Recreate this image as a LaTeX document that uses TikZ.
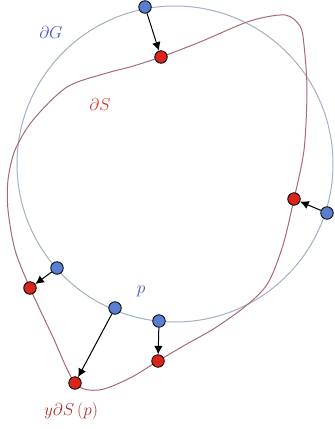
\documentclass[tikz,border=0pt]{standalone}
\usepackage{amsmath}
\usepackage{amssymb}
\usetikzlibrary{arrows, arrows.meta}
\usetikzlibrary{calc}

\definecolor{circcol}{HTML}{A2B1C3}
\definecolor{curvecol}{HTML}{A8687A}
\definecolor{dotblue}{HTML}{5B7FD0}
\definecolor{dotred}{HTML}{D9261C}
\definecolor{txtblue}{HTML}{4656BE}
\definecolor{txtred}{HTML}{D8332A}
\definecolor{txtdark}{HTML}{B02C2C}

\begin{document}
\begin{tikzpicture}[x=1pt, y=-1pt,
    bluedot/.style={circle, draw=black, line width=0.8pt, fill=dotblue, inner sep=0pt, minimum size=12.5pt},
    reddot/.style={circle, draw=black, line width=0.8pt, fill=dotred, inner sep=0pt, minimum size=12.5pt},
    shift arrow/.style={draw=black, line width=1pt, -{Latex[length=8.5pt, width=8.5pt]}},
    lbl/.style={inner sep=0pt, font=\LARGE}]
      \useasboundingbox (0,0) rectangle (335,429);

      % boundary of G
      \draw[circcol, line width=1pt] (175,164) circle (158);

      % boundary of S
      \draw[curvecol, line width=1pt] plot[smooth cycle, tension=0.5] coordinates {
        (161,57) (200,42) (250,21) (285,15) (300,26) (304,45) (307,90) (304,150)
        (294,199) (283,245) (268,283) (247,305) (215,328) (185,345) (158,361)
        (130,378) (99,390) (75,383) (52,335) (30,288) (15,250) (8,210) (8,180)
        (15,150) (33,120) (67,87) (107,73) (130,67)};

      \node[bluedot] (g1) at (145,7) {};
      \node[bluedot] (g2) at (327,213) {};
      \node[bluedot] (g3) at (57,268) {};
      \node[bluedot] (g4) at (115,308) {};
      \node[bluedot] (g5) at (159,321) {};

      \node[reddot] (s1) at (161,57) {};
      \node[reddot] (s2) at (294,199) {};
      \node[reddot] (s3) at (30,288) {};
      \node[reddot] (s4) at (75,383) {};
      \node[reddot] (s5) at (158,361) {};

      \draw[shift arrow] (g1) -- (s1);
      \draw[shift arrow] (g2) -- (s2);
      \draw[shift arrow] (g3) -- (s3);
      \draw[shift arrow] (g4) -- (s4);
      \draw[shift arrow] (g5) -- (s5);

      \node[lbl, text=txtblue] (lblG) at (51,32) {$\partial G$};
      \node[lbl, text=txtred] (lblS) at (100,104) {$\partial S$};
      \node[lbl, text=txtblue] (lblp) at (141,291) {$p$};
      \node[lbl, text=txtdark] (lblyS) at (71,411) {$y\partial S\,(p)$};
    \end{tikzpicture}
\end{document}
